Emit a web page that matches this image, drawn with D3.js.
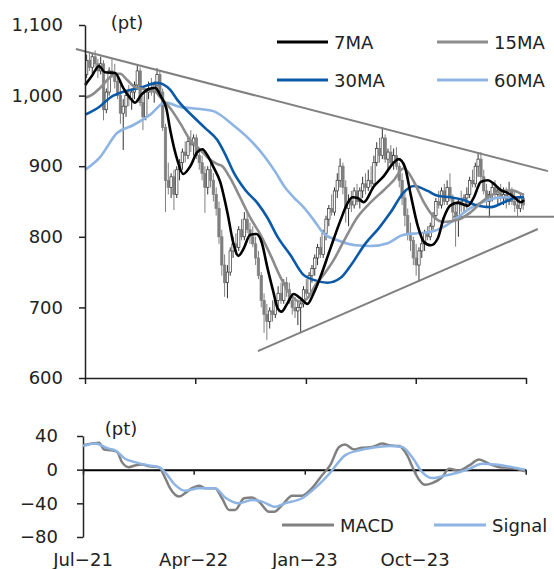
<!DOCTYPE html>
<html><head><meta charset="utf-8">
<script src="https://cdn.jsdelivr.net/npm/d3@7"></script>
<style>body{margin:0;background:#fff}text{font-family:"DejaVu Sans",sans-serif;font-size:18px;fill:#222}</style>
</head><body>
<script>
// ---- data (weekly candles from 2021-07-05; MA / MACD as [week, value]) ----
const weekStart = new Date(2021, 6, 5);
const candleOpen  = [1030,1050,1040,1055,1045,1035,1045,980,1005,1035,1030,1020,1000,975,985,1000,995,1005,1015,1035,990,970,1005,1010,1005,1015,1030,1005,955,880,870,885,860,895,905,920,915,935,930,940,915,905,890,870,895,880,860,840,800,760,735,750,780,790,785,810,800,825,810,800,790,770,745,710,690,680,695,690,710,720,710,735,725,710,700,695,700,705,725,720,745,755,770,785,775,805,825,840,835,865,880,900,870,840,850,845,865,850,865,875,870,880,875,905,925,915,940,910,920,905,915,900,880,855,830,805,795,770,760,780,790,805,800,815,830,850,845,865,850,870,855,835,830,850,845,855,860,880,875,900,910,885,865,850,860,870,860,865,855,860,850,865,850,845,840,855];
const candleHigh  = [1058,1062,1060,1064,1052,1055,1050,1010,1040,1052,1045,1030,1015,995,1005,1015,1010,1020,1043,1040,1000,1010,1020,1025,1020,1039,1035,1010,960,905,890,895,900,910,925,935,940,951,945,945,925,915,900,900,905,890,870,850,810,775,760,785,800,805,815,825,835,835,820,815,800,780,750,720,705,700,710,715,730,735,740,743,735,720,715,710,715,730,740,750,760,775,790,800,810,830,845,860,870,890,911,905,880,860,865,870,875,870,885,890,895,900,915,934,940,955,945,925,930,925,927,905,890,865,840,820,800,790,785,800,810,815,820,835,855,865,870,875,880,890,860,845,855,865,860,870,885,895,905,920,920,895,875,865,875,880,870,875,870,870,878,870,865,855,860,862];
const candleLow   = [1025,1035,1030,1040,1025,1030,965,975,1000,1025,1010,995,960,923,970,985,980,995,1010,985,951,965,995,1000,990,1005,1000,950,835,860,855,838,855,880,895,905,910,920,915,910,895,880,834,860,870,850,830,790,745,715,713,745,770,775,780,795,795,805,790,785,760,740,700,664,654,670,680,685,700,705,705,715,705,690,685,675,664,700,715,715,735,745,760,770,770,795,815,830,830,855,870,860,820,815,835,840,845,840,855,860,865,870,870,900,905,910,905,895,900,895,895,870,845,815,795,780,760,745,736,770,780,795,795,810,825,840,840,845,845,850,820,786,800,835,835,840,855,870,870,885,880,860,840,827,850,855,845,850,845,840,845,845,835,828,835,838];
const candleClose = [1050,1040,1055,1045,1035,1045,980,1005,1035,1030,1020,1000,975,985,1000,995,1005,1015,1035,990,970,1005,1010,1005,1015,1030,1005,955,880,870,885,860,895,905,920,915,935,930,940,915,905,890,870,895,880,860,840,800,760,735,750,780,790,785,810,800,825,810,800,790,770,745,710,690,680,695,690,710,720,710,735,725,710,700,695,700,705,725,720,745,755,770,785,775,805,825,840,835,865,880,900,870,840,850,845,865,850,865,875,870,880,875,905,925,915,940,910,920,905,915,900,880,855,830,805,795,770,760,780,790,805,800,815,830,850,845,865,850,870,855,835,830,850,845,855,860,880,875,900,910,885,865,850,860,870,860,865,855,860,850,865,850,845,840,855,845];

const ma7  = [[-0.5,1015],[1.9,1028],[4.4,1042],[6.5,1033],[10.1,1032],[13,1011],[15.4,997],[17.2,990],[19.4,1001],[21.9,1009],[24.3,1011],[26.5,998],[28.3,982],[29.7,951],[32.2,909],[34.3,889],[36.8,900],[39.3,920],[41.1,924],[42.8,916],[45,899],[47.4,878],[50,834],[52.1,791],[53.9,773],[55.7,783],[58.1,803],[60.3,804],[62.1,793],[64.2,756],[66.3,722],[67.8,699],[69.2,694],[71.3,706],[73.5,719],[75.9,713],[78.4,705],[80.6,720],[83,743],[86.6,784],[90.2,824],[92.7,848],[94.4,856],[96.2,855],[98.4,849],[101.9,871],[105.5,886],[109,905],[110.8,910],[113,899],[115.1,859],[117.6,815],[119.7,793],[122.2,788],[124.7,798],[126.8,827],[129.3,845],[131.8,848],[135.4,844],[137.5,856],[140,878],[142.5,880],[144.6,875],[147.1,866],[149.6,862],[151.8,856],[154.2,849],[155.3,852]];
const ma15 = [[-0.5,997],[1.9,1001],[4.8,1011],[8.3,1026],[10.1,1031],[11.9,1031],[14.4,1022],[17.2,1012],[20.8,1009],[24.3,1006],[26.1,998],[29.7,982],[33.2,961],[36.8,937],[40.4,923],[43.9,909],[46.4,903],[48.2,900],[51,883],[54.6,855],[58.1,827],[61.7,803],[65.3,774],[68.8,743],[72.4,718],[75.9,708],[78.8,715],[81.3,732],[84.1,746],[87.7,767],[91.2,793],[96.2,828],[100.9,849],[105.5,866],[109,880],[112.6,897],[116.2,878],[119.7,849],[123.3,828],[126.8,821],[131.8,824],[136.4,835],[141.1,852],[146,863],[150.7,866],[155.3,859]];
const ma30 = [[-0.5,973],[4.8,985],[8.3,997],[14.4,1007],[19,1011],[25.1,1018],[27.2,1016],[29.7,1008],[32.2,994],[37.9,970],[42.1,954],[46.4,937],[49.3,916],[52.1,892],[56.4,866],[60.6,848],[64.2,827],[67.8,800],[72.4,774],[77,746],[80.6,739],[85.5,735],[90.2,742],[93.7,759],[99.1,791],[103.7,812],[108,835],[112.6,863],[116.2,872],[121.1,865],[124.7,858],[129.3,856],[133.9,852],[138.9,844],[143.6,842],[148.2,849],[153.2,856],[155.3,856]];
const ma60 = [[-0.5,895],[4.8,913],[10.8,947],[16.5,958],[22.6,973],[27.9,990],[33.2,984],[40.4,981],[45,978],[52.1,958],[58.1,937],[63.5,912],[67,892],[70.6,869],[73.5,856],[77,842],[80.6,824],[84.1,805],[89.1,795],[95.5,788],[100.9,787],[106.9,791],[112.6,803],[117.6,805],[122.2,807],[126.8,814],[131.8,828],[136.4,841],[142.5,852],[148.2,856],[155.3,856]];

const trendUpper = [[-3.8,1066],[163.8,893]];
const trendLower = [[60.8,638],[160.2,811]];
const supportLine = [[130.1,828.5],[166,828.5]];

const macd = [[-0.5,29],[2.6,31],[5.1,32],[6.9,24],[9.7,23],[11.5,21],[13.2,9],[15.7,3],[17.8,5],[20.3,6],[22.8,4],[26.3,3],[28.1,-7],[30.2,-22],[33.4,-32],[35.5,-28],[38,-22],[40.5,-19],[42.6,-22],[46.1,-22],[48.6,-34],[51.1,-48],[53.2,-48],[56.4,-34],[59.2,-33],[61.7,-38],[65.2,-50],[67,-50],[69.9,-42],[73.4,-31],[76.9,-31],[80.4,-22],[83.9,-7],[86.8,5],[90,27],[92.1,30],[95.3,24],[98.1,26],[101.7,27],[105.2,31],[107.7,29],[111.2,28],[114.1,17],[116.5,-1],[118.3,-12],[120.4,-18],[122.9,-16],[126.4,-9],[128.9,1],[132.4,-1],[136,5],[139.5,12],[143,7],[146.6,3],[151.2,2],[155.8,-2]];
const signal = [[-0.5,28],[3.7,31],[8.6,25],[10.8,23],[14.3,13],[17.8,9],[22.8,5],[26.3,3],[28.4,-3],[32,-18],[35.5,-25],[40.5,-22],[46.1,-22],[49.7,-33],[54.6,-40],[59.2,-36],[62.8,-38],[67.4,-44],[70.9,-40],[76.9,-34],[81.5,-22],[86.5,-5],[92.1,17],[97.1,23],[101.7,26],[107.7,28],[112.3,27],[115.8,15],[119.4,-3],[122.9,-10],[127.5,-7],[132.4,-3],[136,1],[140.6,7],[145.2,6],[151.2,3],[155.8,0]];

const priceTicks = [600,700,800,900,1000,1100];
const macdTicks = [-80,-40,0,40];
const monthTicks = [new Date(2021,6,1),new Date(2022,3,1),new Date(2023,0,1),new Date(2023,9,1),new Date(2024,6,1)];
const monthLabels = ["Jul\u221221","Apr\u221222","Jan\u221223","Oct\u221223",""];
const maSeries = [
  {name:"60MA", data:ma60, color:"#8db4e2"},
  {name:"30MA", data:ma30, color:"#0b5aa8"},
  {name:"15MA", data:ma15, color:"#8c8c8c"},
  {name:"7MA",  data:ma7,  color:"#000000"}
];

// ---- drawing ----
const toDate = w => new Date(weekStart.getTime() + w*7*86400000);
const svg = d3.select("body").append("svg").attr("width",554).attr("height",569);

const xTop = d3.scaleTime().domain([monthTicks[0], monthTicks[4]]).range([85, 526]);
const yTop = d3.scaleLinear().domain([600,1100]).range([378,25]);
const xBot = d3.scaleTime().domain([monthTicks[0], monthTicks[4]]).range([83, 525.7]);
const yBot = d3.scaleLinear().domain([-80,40]).range([537,436]);

// candles
const cw = 2.4;
const cg = svg.append("g");
candleClose.forEach((c,i)=>{
  const o = candleOpen[i], h = candleHigh[i], l = candleLow[i];
  const x = xTop(toDate(i));
  const up = c >= o;
  cg.append("line").attr("x1",x).attr("x2",x).attr("y1",yTop(h)).attr("y2",yTop(l))
    .attr("stroke", up ? "#333" : "#7f7f7f").attr("stroke-width",1);
  const y0 = yTop(Math.max(o,c)), y1 = yTop(Math.min(o,c));
  cg.append("rect").attr("x",x-cw/2).attr("y",y0).attr("width",cw).attr("height",Math.max(1,y1-y0))
    .attr("fill", up ? "#fff" : "#7f7f7f").attr("stroke", up ? "#333" : "#7f7f7f").attr("stroke-width",0.7);
});

// trend lines
const tl = d3.line().x(d=>xTop(toDate(d[0]))).y(d=>yTop(d[1]));
[trendUpper, trendLower, supportLine].forEach(t=>{
  svg.append("path").attr("d",tl(t)).attr("fill","none").attr("stroke","#808080").attr("stroke-width",2);
});

// MAs
const maLine = d3.line().curve(d3.curveMonotoneX).x(d=>xTop(toDate(d[0]))).y(d=>yTop(d[1]));
maSeries.forEach(s=>{
  svg.append("path").attr("d",maLine(s.data)).attr("fill","none").attr("stroke",s.color).attr("stroke-width",2.6)
    .attr("stroke-linejoin","round");
});

// top axes
const ay = svg.append("g").attr("transform","translate(85,0)")
  .call(d3.axisLeft(yTop).tickValues(priceTicks).tickFormat(d3.format(",")).tickSize(6).tickSizeOuter(0).tickPadding(16));
const ax = svg.append("g").attr("transform","translate(0,378)")
  .call(d3.axisBottom(xTop).tickValues(monthTicks).tickFormat("").tickSize(6).tickSizeOuter(0));
[ay, ax].forEach(g=>{
  g.selectAll("path,line").attr("stroke","#222").attr("stroke-width",1.5);
  g.selectAll("text").style("font-family","DejaVu Sans").style("font-size","18px").attr("fill","#222");
});
svg.append("text").attr("x",127).attr("y",28.5).attr("text-anchor","middle").text("(pt)");

// top legend
const legTop = [
  {name:"7MA", color:"#000000", x:277, y:42},
  {name:"15MA", color:"#8c8c8c", x:437, y:42},
  {name:"30MA", color:"#0b5aa8", x:277, y:80},
  {name:"60MA", color:"#8db4e2", x:437, y:80}
];
legTop.forEach(l=>{
  svg.append("line").attr("x1",l.x).attr("x2",l.x+51).attr("y1",l.y).attr("y2",l.y).attr("stroke",l.color).attr("stroke-width",3);
  svg.append("text").attr("x",l.x+57).attr("y",l.y+6.5).text(l.name);
});

// MACD panel
const mLine = d3.line().curve(d3.curveMonotoneX).x(d=>xBot(toDate(d[0]))).y(d=>yBot(d[1]));
const by = svg.append("g").attr("transform","translate(83,0)")
  .call(d3.axisLeft(yBot).tickValues(macdTicks).tickSize(6).tickSizeOuter(0).tickPadding(19));
by.selectAll("path,line").attr("stroke","#222").attr("stroke-width",1.5);
by.selectAll("text").style("font-family","DejaVu Sans").style("font-size","18px").attr("fill","#222");
const bx = svg.append("g").attr("transform",`translate(0,${yBot(0)})`)
  .call(d3.axisBottom(xBot).tickValues(monthTicks).tickFormat("").tickSize(5).tickSizeOuter(0));
bx.selectAll("path").attr("stroke","#000").attr("stroke-width",2);
bx.selectAll("line").attr("stroke","#222").attr("stroke-width",1.5);
svg.append("path").attr("d",mLine(macd)).attr("fill","none").attr("stroke","#808080").attr("stroke-width",2.5);
svg.append("path").attr("d",mLine(signal)).attr("fill","none").attr("stroke","#8db4e2").attr("stroke-width",2.5);
svg.append("text").attr("x",121).attr("y",434.5).attr("text-anchor","middle").text("(pt)");
monthTicks.forEach((d,i)=>{
  svg.append("text").attr("x",xBot(d)).attr("y",566).attr("text-anchor","middle").text(monthLabels[i]);
});
const legBot = [{name:"MACD",color:"#808080",x:282},{name:"Signal",color:"#8db4e2",x:434}];
legBot.forEach(l=>{
  svg.append("line").attr("x1",l.x).attr("x2",l.x+52).attr("y1",525).attr("y2",525).attr("stroke",l.color).attr("stroke-width",3);
  svg.append("text").attr("x",l.x+58).attr("y",531.5).text(l.name);
});
</script>
</body></html>
